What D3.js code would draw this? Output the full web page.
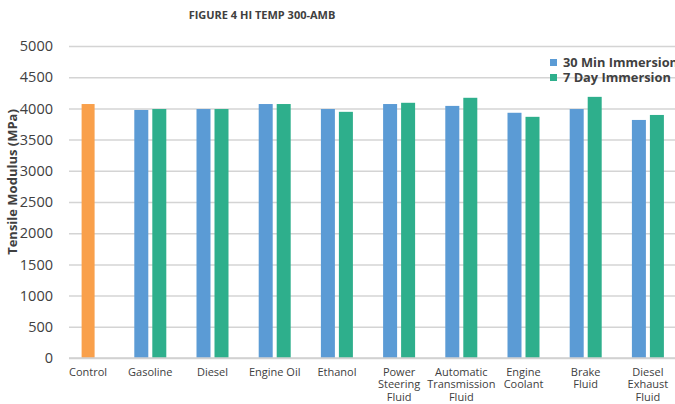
<!DOCTYPE html>
<html>
<head>
<meta charset="utf-8">
<script src="https://cdn.jsdelivr.net/npm/d3@7"></script>
<style>
  body { margin: 0; background: #fff; }
  svg { display: block; font-family: "Open Sans", "Noto Sans", sans-serif; }
  .tick text { fill: #404040; }
</style>
</head>
<body>
<div id="chart"></div>
<script>
// chart data
const categories = ["Control", "Gasoline", "Diesel", "Engine Oil", "Ethanol",
    "Power Steering Fluid", "Automatic Transmission Fluid", "Engine Coolant",
    "Brake Fluid", "Diesel Exhaust Fluid"];
const labelLines = [["Control"], ["Gasoline"], ["Diesel"], ["Engine Oil"], ["Ethanol"],
    ["Power", "Steering", "Fluid"], ["Automatic", "Transmission", "Fluid"],
    ["Engine", "Coolant"], ["Brake", "Fluid"], ["Diesel", "Exhaust", "Fluid"]];
const controlValue = 4070;
const min30 = [null, 3975, 3990, 4070, 3990, 4070, 4040, 3930, 3990, 3815];
const day7 = [null, 3990, 3990, 4070, 3945, 4090, 4170, 3865, 4185, 3895];
const yTicks = [0, 500, 1000, 1500, 2000, 2500, 3000, 3500, 4000, 4500, 5000];
const seriesNames = ["30 Min Immersion", "7 Day Immersion"];

const WIDTH = 675;
const HEIGHT = 404;
const PLOT_LEFT = 69;
const PLOT_RIGHT = 675;
const PLOT_TOP = 46;
const PLOT_BOTTOM = 358;
const BAR_W = 14;
const BAR_GAP = 4;

const colors = { control: "#F9A04B", min30: "#5B9BD5", day7: "#2EAF8C" };

const svg = d3.select("#chart").append("svg")
    .attr("width", WIDTH)
    .attr("height", HEIGHT);

const x = d3.scaleBand()
    .domain(categories)
    .range([57, 679]);

const y = d3.scaleLinear()
    .domain([0, 5000])
    .range([PLOT_BOTTOM, PLOT_TOP]);

// gridlines + y tick labels
const yAxis = svg.append("g")
    .attr("transform", "translate(" + PLOT_LEFT + ",0)")
    .call(d3.axisLeft(y).tickValues(yTicks).tickFormat(d3.format("d"))
        .tickSize(-(PLOT_RIGHT - PLOT_LEFT)).tickPadding(16));
yAxis.select(".domain").remove();
yAxis.selectAll(".tick line")
    .attr("stroke", "#d4d4d4")
    .attr("stroke-width", 1.5);
yAxis.selectAll(".tick text")
    .attr("font-size", 14.5)
    .attr("font-family", "'Open Sans', sans-serif");

// bars
const center = (i) => x(categories[i]) + x.bandwidth() / 2;

svg.append("rect")
    .attr("x", center(0) - 6.5)
    .attr("y", y(controlValue))
    .attr("width", 13)
    .attr("height", y(0) - y(controlValue))
    .attr("fill", colors.control);

const pairs = categories.map((c, i) => ({ i: i, a: min30[i], b: day7[i] }))
    .filter(d => d.a !== null);

svg.append("g").selectAll("rect")
    .data(pairs)
    .enter().append("rect")
    .attr("x", d => center(d.i) - BAR_GAP / 2 - BAR_W)
    .attr("y", d => y(d.a))
    .attr("width", BAR_W)
    .attr("height", d => y(0) - y(d.a))
    .attr("fill", colors.min30);

svg.append("g").selectAll("rect")
    .data(pairs)
    .enter().append("rect")
    .attr("x", d => center(d.i) + BAR_GAP / 2)
    .attr("y", d => y(d.b))
    .attr("width", BAR_W)
    .attr("height", d => y(0) - y(d.b))
    .attr("fill", colors.day7);

// baseline
svg.append("line")
    .attr("x1", PLOT_LEFT).attr("x2", PLOT_RIGHT)
    .attr("y1", y(0)).attr("y2", y(0))
    .attr("stroke", "#d0d0d0")
    .attr("stroke-width", 1.5);

// x labels, one text per line
const xLabelData = [];
labelLines.forEach((lines, i) => {
    lines.forEach((t, k) => xLabelData.push({ i: i, k: k, t: t }));
});
svg.append("g").selectAll("text")
    .data(xLabelData)
    .enter().append("text")
    .attr("x", d => center(d.i))
    .attr("y", d => 376 + d.k * 12.4)
    .attr("text-anchor", "middle")
    .attr("font-size", 11)
    .attr("fill", "#404040")
    .text(d => d.t);

// title
svg.append("text")
    .attr("x", 262)
    .attr("y", 19)
    .attr("text-anchor", "middle")
    .attr("font-size", 11)
    .attr("font-weight", "bold")
    .attr("fill", "#404040")
    .text("FIGURE 4 HI TEMP 300-AMB");

// y axis title
svg.append("text")
    .attr("transform", "translate(17,182)rotate(-90)")
    .attr("text-anchor", "middle")
    .attr("font-size", 13)
    .attr("font-weight", "bold")
    .attr("fill", "#404040")
    .text("Tensile Modulus (MPa)");

// legend
const legend = svg.append("g").attr("transform", "translate(550,0)");
seriesNames.forEach((name, k) => {
    legend.append("rect")
        .attr("x", 0)
        .attr("y", 59 + k * 15)
        .attr("width", 7)
        .attr("height", 7)
        .attr("fill", k === 0 ? colors.min30 : colors.day7);
    legend.append("text")
        .attr("x", 13)
        .attr("y", 67 + k * 15)
        .attr("font-size", 12.8)
        .attr("font-weight", "bold")
        .attr("fill", "#404040")
        .text(name);
});
</script>
</body>
</html>
